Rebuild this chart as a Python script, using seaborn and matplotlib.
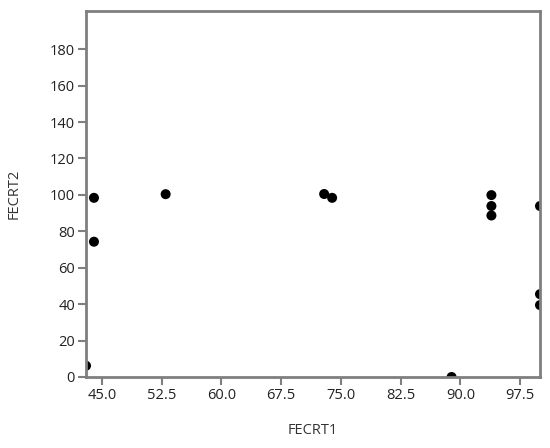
import matplotlib
matplotlib.use("Agg")
import matplotlib.pyplot as plt
import seaborn as sns
import pandas as pd

fecrt1 = [43.0, 44.0, 44.0, 53.0, 72.9, 73.9, 88.9, 93.9, 93.9, 93.9, 100.0, 100.0, 100.0]
fecrt2 = [6.2, 98.4, 74.3, 100.4, 100.5, 98.4, 0.0, 99.9, 93.9, 88.7, 93.9, 45.5, 39.5]
x_ticks = [45.0, 52.5, 60.0, 67.5, 75.0, 82.5, 90.0, 97.5]
y_ticks = [0, 20, 40, 60, 80, 100, 120, 140, 160, 180]

df = pd.DataFrame({"FECRT1": fecrt1, "FECRT2": fecrt2})

sns.set_theme(style="white")
plt.rcParams['font.family'] = ['Open Sans', 'DejaVu Sans']

fig = plt.figure(figsize=(5.5, 4.48), dpi=100)
ax = fig.add_axes([86/550, 1 - 377/448, (540-86)/550, (377-11)/448])

sns.scatterplot(data=df, x="FECRT1", y="FECRT2", ax=ax, color="black",
                s=52, edgecolor="none", zorder=1)

ax.set_xlim(43.0, 100.0)
ax.set_ylim(0, 201)
ax.set_xticks(x_ticks)
ax.set_xticklabels([f"{t:.1f}" for t in x_ticks])
ax.set_yticks(y_ticks)
ax.set_yticklabels([str(t) for t in y_ticks])

for sp in ax.spines.values():
    sp.set_visible(True)
    sp.set_color("#7f7f7f")
    sp.set_linewidth(2.0)

ax.tick_params(axis="both", which="major", direction="out", length=6, width=1.5,
               color="#7f7f7f", labelsize=10.5, labelcolor="#222222", pad=2,
               bottom=True, left=True)

ax.set_xlabel("FECRT1", fontsize=10.5, color="#333333", labelpad=14)
ax.set_ylabel("FECRT2", fontsize=10.5, color="#333333", labelpad=20)

fig.savefig("out.png", dpi=100)
